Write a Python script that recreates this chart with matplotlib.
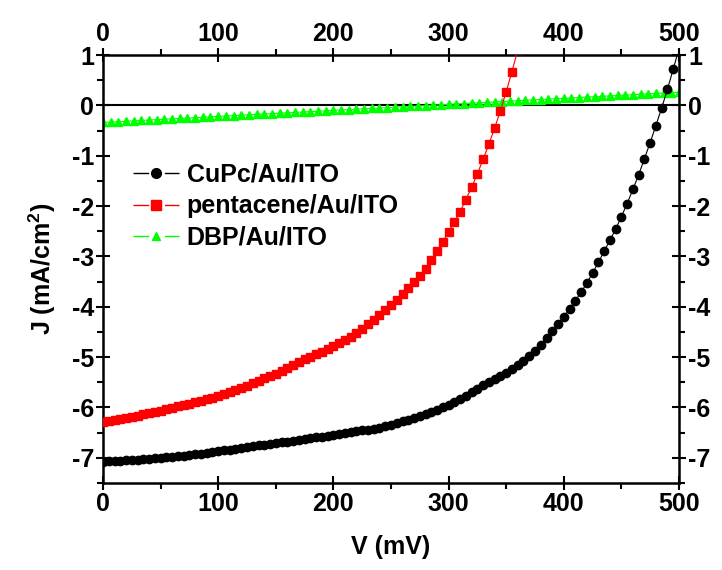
import matplotlib
matplotlib.use("Agg")
import matplotlib.pyplot as plt
from matplotlib.lines import Line2D
from matplotlib.ticker import MultipleLocator

plt.rcParams['font.family'] = ['Liberation Sans', 'DejaVu Sans']
plt.rcParams['font.weight'] = 'bold'
plt.rcParams['axes.unicode_minus'] = False
plt.rcParams['mathtext.fontset'] = 'custom'
plt.rcParams['mathtext.bf'] = 'Liberation Sans:bold'
plt.rcParams['mathtext.rm'] = 'Liberation Sans:bold'
plt.rcParams['mathtext.default'] = 'bf'

# ---------------- data ----------------
labels = ["CuPc/Au/ITO", "pentacene/Au/ITO", "DBP/Au/ITO"]
colors = ["black", "red", "#00ff00"]

V_cupc = [0, 5, 10, 15, 20, 25, 30, 35, 40, 45, 50, 55, 60, 65, 70, 75, 80, 85, 90, 95,
          100, 105, 110, 115, 120, 125, 130, 135, 140, 145, 150, 155, 160, 165, 170, 175, 180, 185, 190, 195,
          200, 205, 210, 215, 220, 225, 230, 235, 240, 245, 250, 255, 260, 265, 270, 275, 280, 285, 290, 295,
          300, 305, 310, 315, 320, 325, 330, 335, 340, 345, 350, 355, 360, 365, 370, 375, 380, 385, 390, 395,
          400, 405, 410, 415, 420, 425, 430, 435, 440, 445, 450, 455, 460, 465, 470, 475, 480, 485, 490, 495,
          500]
J_cupc = [-7.08, -7.07, -7.07, -7.06, -7.05, -7.04, -7.04, -7.03, -7.02, -7.01,
          -7.00, -6.99, -6.98, -6.97, -6.96, -6.94, -6.93, -6.92, -6.90, -6.89,
          -6.87, -6.85, -6.84, -6.82, -6.80, -6.78, -6.77, -6.75, -6.74, -6.72,
          -6.71, -6.69, -6.68, -6.66, -6.65, -6.63, -6.61, -6.59, -6.58, -6.56,
          -6.54, -6.52, -6.50, -6.49, -6.47, -6.45, -6.44, -6.42, -6.40, -6.37,
          -6.34, -6.31, -6.27, -6.24, -6.20, -6.16, -6.12, -6.08, -6.04, -6.00,
          -5.96, -5.90, -5.84, -5.77, -5.70, -5.63, -5.56, -5.50, -5.44, -5.38,
          -5.31, -5.24, -5.16, -5.08, -4.98, -4.87, -4.75, -4.62, -4.49, -4.35,
          -4.20, -4.04, -3.88, -3.71, -3.53, -3.33, -3.12, -2.90, -2.68, -2.46,
          -2.21, -1.95, -1.67, -1.38, -1.06, -0.74, -0.40, -0.05, 0.32, 0.72,
          1.12]

V_pent = [0, 5, 10, 15, 20, 25, 30, 35, 40, 45, 50, 55, 60, 65, 70, 75, 80, 85, 90, 95,
          100, 105, 110, 115, 120, 125, 130, 135, 140, 145, 150, 155, 160, 165, 170, 175, 180, 185, 190, 195,
          200, 205, 210, 215, 220, 225, 230, 235, 240, 245, 250, 255, 260, 265, 270, 275, 280, 285, 290, 295,
          300, 305, 310, 315, 320, 325, 330, 335, 340, 345, 350, 355, 360]
J_pent = [-6.28, -6.26, -6.24, -6.22, -6.20, -6.18, -6.16, -6.13, -6.11, -6.08,
          -6.06, -6.03, -6.01, -5.98, -5.95, -5.93, -5.90, -5.87, -5.84, -5.81,
          -5.78, -5.74, -5.70, -5.66, -5.61, -5.57, -5.52, -5.47, -5.42, -5.38,
          -5.33, -5.28, -5.22, -5.16, -5.10, -5.04, -4.99, -4.94, -4.89, -4.83,
          -4.78, -4.72, -4.66, -4.60, -4.52, -4.44, -4.35, -4.26, -4.16, -4.06,
          -3.96, -3.86, -3.75, -3.63, -3.51, -3.38, -3.24, -3.08, -2.89, -2.71,
          -2.52, -2.32, -2.11, -1.87, -1.63, -1.36, -1.07, -0.77, -0.45, -0.11,
          0.27, 0.67, 1.10]

V_dbp = [0, 6.7, 13.3, 20, 26.7, 33.3, 40, 46.7, 53.3, 60, 66.7, 73.3, 80, 86.7, 93.3,
         100, 106.7, 113.3, 120, 126.7, 133.3, 140, 146.7, 153.3, 160, 166.7, 173.3, 180, 186.7, 193.3,
         200, 206.7, 213.3, 220, 226.7, 233.3, 240, 246.7, 253.3, 260, 266.7, 273.3, 280, 286.7, 293.3,
         300, 306.7, 313.3, 320, 326.7, 333.3, 340, 346.7, 353.3, 360, 366.7, 373.3, 380, 386.7, 393.3,
         400, 406.7, 413.3, 420, 426.7, 433.3, 440, 446.7, 453.3, 460, 466.7, 473.3, 480, 486.7, 493.3,
         500]
J_dbp = [-0.340, -0.332, -0.324, -0.316, -0.308, -0.300, -0.292, -0.284, -0.276, -0.268,
         -0.260, -0.252, -0.244, -0.236, -0.228, -0.220, -0.212, -0.204, -0.196, -0.188,
         -0.180, -0.172, -0.164, -0.156, -0.148, -0.140, -0.132, -0.124, -0.116, -0.108,
         -0.100, -0.092, -0.084, -0.076, -0.068, -0.060, -0.052, -0.044, -0.036, -0.028,
         -0.020, -0.012, -0.004, 0.004, 0.012, 0.020, 0.028, 0.036, 0.044, 0.052,
         0.060, 0.068, 0.076, 0.084, 0.092, 0.100, 0.108, 0.116, 0.124, 0.132,
         0.140, 0.148, 0.156, 0.164, 0.172, 0.180, 0.188, 0.196, 0.204, 0.212,
         0.220, 0.228, 0.236, 0.244, 0.252, 0.260]

x_ticks = [0, 100, 200, 300, 400, 500]
y_ticks = [1, 0, -1, -2, -3, -4, -5, -6, -7]

# ---------------- figure ----------------
fig = plt.figure(figsize=(7.22, 5.70), dpi=100)
ax = fig.add_axes([0.1427, 0.1526, 0.7977, 0.7509])

ax.axhline(0, color='black', lw=1.5, zorder=1)

ax.plot(V_dbp, J_dbp, color=colors[2], lw=0.8, marker='^', ms=6.2, mec=colors[2], zorder=2)
ax.plot(V_pent, J_pent, color=colors[1], lw=0.8, marker='s', ms=5.3, mec=colors[1], zorder=3)
ax.plot(V_cupc, J_cupc, color=colors[0], lw=0.8, marker='o', ms=6.0, mec=colors[0], zorder=4)

ax.set_xlim(0, 500)
ax.set_ylim(-7.5, 1)
ax.set_xticks(x_ticks)
ax.set_yticks(y_ticks)
ax.xaxis.set_minor_locator(MultipleLocator(50))
ax.yaxis.set_minor_locator(MultipleLocator(0.5))

fs = 18
ax.tick_params(which='major', direction='inout', length=10, width=1.5,
               top=True, right=True, labeltop=True, labelright=True,
               labelsize=fs, pad=1.5)
ax.tick_params(which='minor', direction='out', length=4, width=1.5,
               top=True, right=True)
for lab in ax.get_xticklabels() + ax.get_yticklabels():
    lab.set_fontweight('bold')
for s in ax.spines.values():
    s.set_linewidth(1.8)

ax.set_xlabel('V (mV)', fontsize=18, fontweight='bold', labelpad=14)
ax.set_ylabel(r'J (mA/cm$^{2}$)', fontsize=18, fontweight='bold', labelpad=10)

# legend handles: line broken around the marker
dash = (0, (11.3, 11.3))
handles = [
    Line2D([], [], color=colors[0], lw=1.0, linestyle=dash, marker='o', ms=7.0, mec=colors[0]),
    Line2D([], [], color=colors[1], lw=1.0, linestyle=dash, marker='s', ms=6.5, mec=colors[1]),
    Line2D([], [], color=colors[2], lw=1.0, linestyle=dash, marker='^', ms=5.5, mec=colors[2]),
]
leg = ax.legend(handles, labels, loc='upper left', bbox_to_anchor=(0.052, 0.748),
                frameon=False, borderpad=0, borderaxespad=0, handlelength=1.85,
                handletextpad=0.3, labelspacing=0.3,
                prop={'size': 18, 'weight': 'bold'})

fig.savefig('out.png', dpi=100)
